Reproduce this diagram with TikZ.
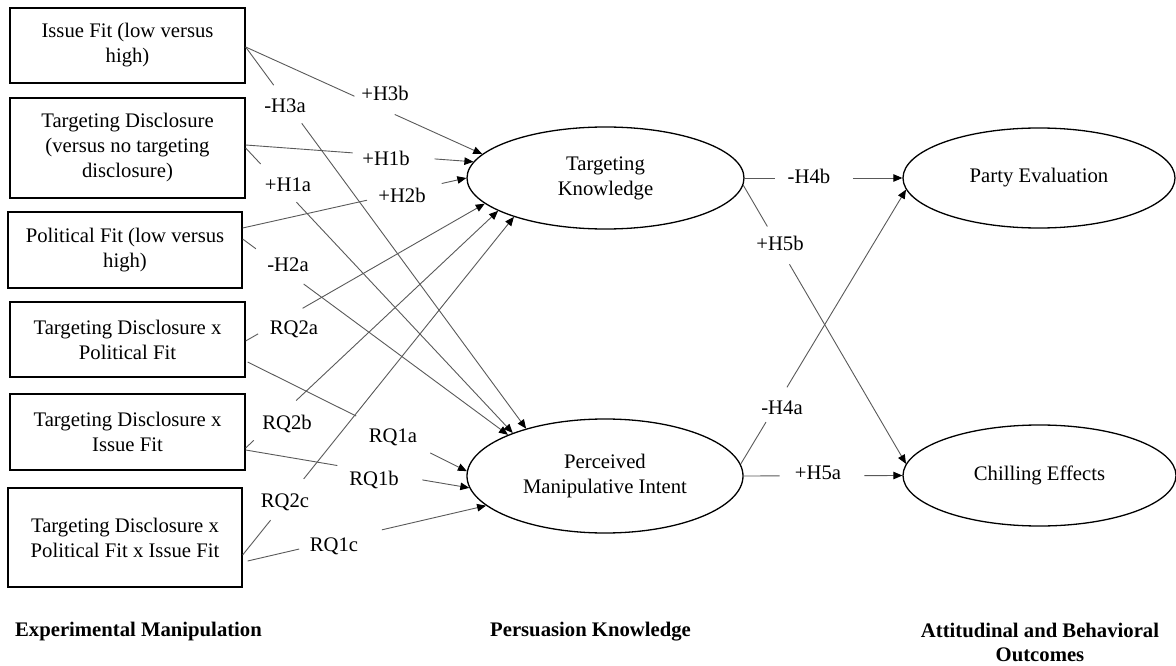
\documentclass[tikz,border=0pt]{standalone}
\usepackage{fontspec}
\setmainfont{Liberation Serif}
\usetikzlibrary{shapes.geometric,arrows.meta,calc}
\newcommand\mylink[4]{%
  \draw[link] (#1) -- ($(#1)!#3!(#2)$);
  \draw[link,arr] ($(#1)!#4!(#2)$) -- (#2);}
\begin{document}
\begin{tikzpicture}[x=1pt,y=-1pt,
  every node/.style={font=\fontsize{20.7}{25}\selectfont},
  box/.style={draw,line width=1.3pt,inner sep=0pt,align=center,minimum width=235pt},
  latent/.style={draw,ellipse,line width=1.3pt,inner sep=0pt,align=center},
  lab/.style={inner sep=1pt},
  head/.style={font=\bfseries\fontsize{20.7}{24}\selectfont,align=center},
  link/.style={line width=0.9pt,draw=black!65},
  arr/.style={-{Triangle[length=9pt,width=7.5pt,color=black]}}]
\useasboundingbox (0,0) rectangle (1176,666);
% left boxes
\node[box,minimum height=75pt] (b1) at (127.5,45.5) {Issue Fit (low versus\\high)};
\node[box,minimum height=100pt] (b2) at (127.5,148) {Targeting Disclosure\\(versus no targeting\\disclosure)};
\node[box,minimum width=234pt,minimum height=76pt] (b3) at (125,250) {Political Fit (low versus\\high)};
\node[box,minimum height=75pt] (b4) at (127.5,339.5) {Targeting Disclosure x\\Political Fit};
\node[box,minimum height=76pt] (b5) at (127.5,432) {Targeting Disclosure x\\Issue Fit};
\node[box,minimum width=234pt,minimum height=99pt] (b6) at (125,537.5) {Targeting Disclosure x\\Political Fit x Issue Fit};
% ellipses
\node[latent,minimum width=277pt,minimum height=102pt] (tk) at (605.5,178) {Targeting\\Knowledge};
\node[latent,minimum width=276pt,minimum height=114pt] (pmi) at (605,476) {Perceived\\Manipulative Intent};
\node[latent,minimum width=272pt,minimum height=100pt] (pe) at (1039,178) {Party Evaluation};
\node[latent,minimum width=273pt,minimum height=101pt] (ce) at (1039.5,475.5) {Chilling Effects};
% labels
\node[lab] (l3b) at (385,93) {+H3b};
\node[lab] (l3a) at (285,106) {-H3a};
\node[lab] (l1b) at (386,158) {+H1b};
\node[lab] (l1a) at (288,185) {+H1a};
\node[lab] (l2b) at (402,195) {+H2b};
\node[lab] (l2a) at (288,265) {-H2a};
\node[lab] (q2a) at (294,329) {RQ2a};
\node[lab] (q2b) at (287,424) {RQ2b};
\node[lab] (q1a) at (393,437) {RQ1a};
\node[lab] (q1b) at (374,480) {RQ1b};
\node[lab] (q2c) at (285,502) {RQ2c};
\node[lab] (q1c) at (334,546) {RQ1c};
\node[lab] (l4b) at (809,176) {-H4b};
\node[lab] (l5b) at (780,243) {+H5b};
\node[lab] (l4a) at (782,408) {-H4a};
\node[lab] (l5a) at (818,473) {+H5a};
% headings
\node[head] (h1) at (138.5,632) {Experimental Manipulation};
\node[head] (h2) at (590.5,632) {Persuasion Knowledge};
\node[head] (h3) at (1040,642.5) {Attitudinal and Behavioral\\Outcomes};
% sources
\coordinate (s1) at ($(b1.east)+(0,1.5)$);
\coordinate (s2a) at ($(b2.east)+(0,-3)$);
\coordinate (s2b) at (b2.east);
\coordinate (s3a) at ($(b3.east)+(0,-22)$);
\coordinate (s3b) at ($(b3.east)+(0,-11)$);
\coordinate (s4a) at ($(b4.east)+(0,1.5)$);
\coordinate (s4b) at ($(b4.east)+(2,22.5)$);
\coordinate (s5a) at ($(b5.east)+(0,16)$);
\coordinate (s5b) at ($(b5.east)+(0,18)$);
\coordinate (s6a) at ($(b6.east)+(0,17.5)$);
\coordinate (s6b) at ($(b6.east)+(5,23.5)$);
% connectors
\mylink{s1}{tk.169}{0.46}{0.63}
\mylink{s1}{pmi.149}{0.10}{0.20}
\mylink{s2a}{tk.173}{0.47}{0.83}
\mylink{s2b}{pmi.155}{0.056}{0.19}
\mylink{s3a}{tk.180}{0.556}{0.89}
\mylink{s3b}{pmi.157}{0.05}{0.23}
\mylink{s4a}{tk.192}{0.052}{0.238}
\mylink{s4b}{pmi.178}{0.495}{0.833}
\mylink{s5b}{pmi.185}{0.41}{0.79}
\mylink{s5a}{tk.197}{0.032}{0.2}
\mylink{s6a}{tk.203}{0.103}{0.225}
\mylink{s6b}{pmi.194}{0.216}{0.563}
\mylink{tk.east}{pe.west}{0.195}{0.686}
\mylink{tk.357}{ce.175}{0.148}{0.284}
\mylink{pmi.5}{pe.185}{0.153}{0.28}
\mylink{pmi.east}{ce.west}{0.226}{0.76}
\end{tikzpicture}
\end{document}
